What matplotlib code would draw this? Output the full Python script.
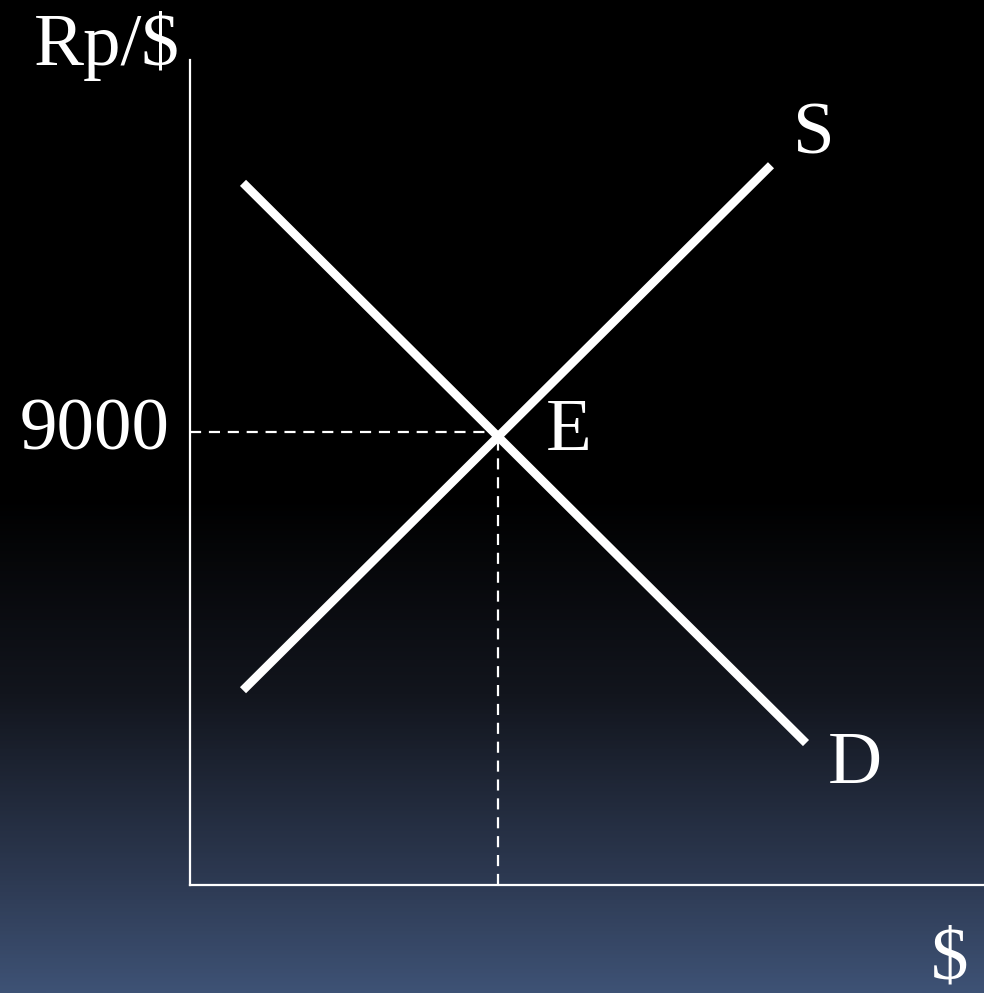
import numpy as np
import matplotlib.pyplot as plt
from matplotlib.colors import LinearSegmentedColormap

# supply and demand lines (quantity, price in Rp/$)
supply_q = [53, 581]
supply_p = [3870, 14300]
demand_q = [53, 616]
demand_p = [13950, 2820]
eq_q = 308
eq_p = 9000
eq_label = "9000"

plt.rcParams['font.family'] = ['Liberation Serif', 'DejaVu Serif']

fig = plt.figure(figsize=(9.84, 9.93), dpi=100)

# background gradient: black on top, slate blue at the bottom
bg = fig.add_axes([0, 0, 1, 1], zorder=0)
cmap = LinearSegmentedColormap.from_list(
    "bg", [(0.0, "#3e5275"), (0.12, "#2c3850"), (0.3, "#12151d"),
           (0.5, "#000000"), (1.0, "#000000")])
grad = np.linspace(0, 1, 512).reshape(-1, 1)
bg.imshow(grad, aspect="auto", cmap=cmap, origin="lower", extent=[0, 1, 0, 1])
bg.set_axis_off()

W, H = 984, 993
ax = fig.add_axes([190 / W, 108 / H, 794 / W, 825 / H], zorder=1)
ax.patch.set_alpha(0)
ax.set_xlim(0, 794)
ax.set_ylim(0, 825 * eq_p / 453)
for side in ["top", "right"]:
    ax.spines[side].set_visible(False)
for side in ["left", "bottom"]:
    ax.spines[side].set_color("white")
    ax.spines[side].set_linewidth(1.6)
ax.set_xticks([])
ax.set_yticks([])

ax.plot(supply_q, supply_p, color="white", lw=6.2, solid_capstyle="butt")
ax.plot(demand_q, demand_p, color="white", lw=6.2, solid_capstyle="butt")
ax.plot([0, eq_q], [eq_p, eq_p], color="white", lw=1.6, ls=(0, (5, 3.5)))
ax.plot([eq_q, eq_q], [0, eq_p], color="white", lw=1.6, ls=(0, (5, 3.5)))

fs = 54
ax.text(eq_q + 48, eq_p, "E", color="white", fontsize=fs, va="center", ha="left")
ax.text(supply_q[1] + 22, supply_p[1] - 80, "S", color="white", fontsize=fs, va="bottom", ha="left")
ax.text(demand_q[1] + 22, demand_p[1] - 450, "D", color="white", fontsize=fs, va="center", ha="left")
ax.text(-20, eq_p, eq_label, color="white", fontsize=fs, va="center", ha="right")

fig.text(180 / W, 1 - 65 / H, "Rp/$", color="white", fontsize=fs, ha="right", va="baseline")
fig.text(968 / W, 1 - 978 / H, "$", color="white", fontsize=fs, ha="right", va="baseline")

fig.savefig("out.png", dpi=100)
